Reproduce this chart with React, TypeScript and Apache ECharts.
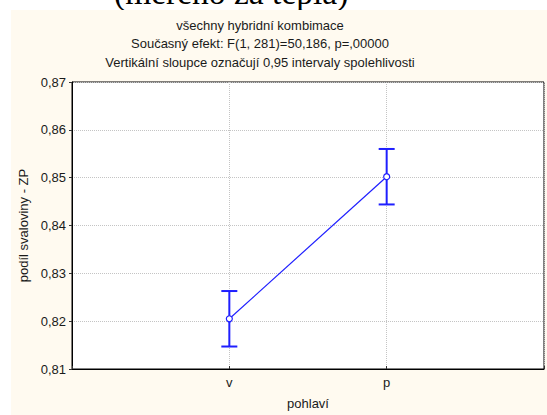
import React, { useEffect, useRef } from "react";
import * as echarts from "echarts";

// Category positions on the x scale and their labels
const categories = ["v", "p"];
const categoryPos = [1, 2];
// Group means of podíl svaloviny - ZP
const means = [0.8205, 0.8502];
// Half-width of the 0.95 confidence intervals
const ciHalf = [0.0058, 0.0058];
const yTicks = [0.81, 0.82, 0.83, 0.84, 0.85, 0.86, 0.87];

const titleLines = [
  "všechny hybridní kombimace",
  "Současný efekt: F(1, 281)=50,186, p=,00000",
  "Vertikální sloupce označují 0,95 intervaly spolehlivosti",
];

const BLUE = "#1f1fff";
const FONT = "Liberation Sans, Arial, sans-serif";
const FS = 13;

export default function App() {
  const ref = useRef<HTMLDivElement>(null);

  useEffect(() => {
    if (!ref.current) return;
    const chart = echarts.init(ref.current, undefined, { renderer: "svg" });

    const points = categoryPos.map((x, i) => [x, means[i]]);
    const bars = categoryPos.map((x, i) => [x, means[i] - ciHalf[i], means[i] + ciHalf[i]]);

    chart.setOption({
      animation: false,
      backgroundColor: "#ffffff",
      textStyle: { fontFamily: FONT },
      graphic: [
        {
          type: "text",
          z: -20,
          left: 114,
          top: -25,
          style: {
            text: "(měřeno za tepla)",
            font: "33.5px 'Liberation Serif', 'Times New Roman', serif",
            fill: "#000",
          },
        },
        {
          type: "rect",
          z: -10,
          shape: { x: 11, y: 10, width: 540, height: 410 },
          style: { fill: "#fffaf0" },
        },
        ...titleLines.map((t, i) => ({
          type: "text",
          z: 5,
          x: 260,
          y: 25 + i * 18.7,
          style: {
            text: t,
            font: `${FS}px ${FONT}`,
            fill: "#1a1a1a",
            align: "center",
            verticalAlign: "middle",
          },
        })),
      ],
      grid: {
        left: 72,
        top: 82,
        right: -3,
        bottom: 46,
        show: true,
        backgroundColor: "#ffffff",
        borderColor: "#000",
        borderWidth: 1,
      },
      xAxis: {
        type: "value",
        min: 0,
        max: 3,
        interval: 1,
        name: "pohlaví",
        nameLocation: "middle",
        nameGap: 28,
        nameTextStyle: { fontSize: FS, color: "#1a1a1a", fontFamily: FONT },
        axisLine: { show: true, onZero: false, lineStyle: { color: "#000", width: 1 } },
        axisTick: { show: true, inside: true, length: 3, lineStyle: { color: "#333" } },
        axisLabel: {
          fontSize: FS,
          color: "#1a1a1a",
          margin: 7,
          formatter: (v: number) => {
            const idx = categoryPos.indexOf(v);
            return idx >= 0 ? categories[idx] : "";
          },
        },
        splitLine: {
          show: true,
          lineStyle: { color: "#c4c4c4", type: "dotted", width: 1 },
        },
      },
      yAxis: {
        type: "value",
        min: yTicks[0],
        max: yTicks[yTicks.length - 1],
        interval: 0.01,
        name: "podíl svaloviny - ZP",
        nameLocation: "middle",
        nameGap: 42,
        nameTextStyle: { fontSize: FS, color: "#1a1a1a", fontFamily: FONT },
        axisLine: { show: true, lineStyle: { color: "#000", width: 1 } },
        axisTick: { show: true, length: 3, lineStyle: { color: "#333" } },
        axisLabel: {
          fontSize: FS,
          color: "#1a1a1a",
          margin: 6,
          formatter: (v: number) => v.toFixed(2).replace(".", ","),
        },
        splitLine: {
          show: true,
          lineStyle: { color: "#c4c4c4", type: "dotted", width: 1 },
        },
      },
      series: [
        {
          type: "custom",
          z: 3,
          data: bars,
          renderItem: (params: any, api: any) => {
            const x = api.value(0);
            const lo = api.coord([x, api.value(1)]);
            const hi = api.coord([x, api.value(2)]);
            const cap = 8;
            const style = { stroke: BLUE, lineWidth: 2 };
            return {
              type: "group",
              children: [
                { type: "line", shape: { x1: lo[0], y1: lo[1], x2: hi[0], y2: hi[1] }, style },
                { type: "line", shape: { x1: lo[0] - cap, y1: lo[1], x2: lo[0] + cap, y2: lo[1] }, style },
                { type: "line", shape: { x1: hi[0] - cap, y1: hi[1], x2: hi[0] + cap, y2: hi[1] }, style },
              ],
            };
          },
        },
        {
          type: "line",
          z: 4,
          data: points,
          symbol: "circle",
          symbolSize: 6,
          lineStyle: { color: BLUE, width: 1.2 },
          itemStyle: { color: "#ffffff", borderColor: BLUE, borderWidth: 1.2 },
        },
      ],
    });

    return () => chart.dispose();
  }, []);

  return (
    <div
      ref={ref}
      style={{ position: "absolute", left: 0, top: 0, width: 547, height: 415 }}
    />
  );
}
